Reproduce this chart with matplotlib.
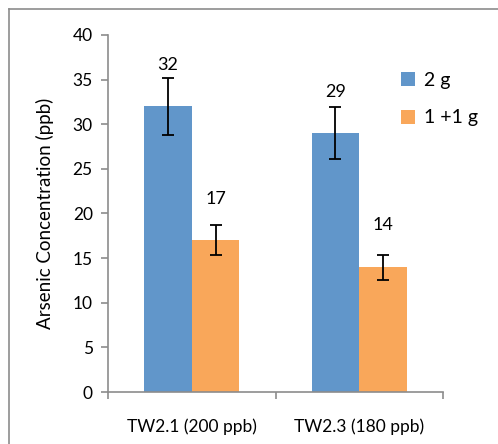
import matplotlib
matplotlib.use("Agg")
import matplotlib.pyplot as plt
from matplotlib.lines import Line2D
import numpy as np

categories = ["TW2.1 (200 ppb)", "TW2.3 (180 ppb)"]
series_names = ["2 g", "1 +1 g"]
values_2g = [32, 29]
values_1p1g = [17, 14]
err_2g = [3.2, 2.9]
err_1p1g = [1.7, 1.4]
yticks = [0, 5, 10, 15, 20, 25, 30, 35, 40]

BLUE = "#6196CA"
ORANGE = "#F9A75A"
AXIS = "#8C8C8C"

plt.rcParams["font.family"] = ["Lato", "DejaVu Sans"]

fig = plt.figure(figsize=(4.98, 4.44), dpi=100)
ax = fig.add_axes([108 / 498, 1 - 392 / 444, 335 / 498, 357 / 444])

# outer chart-area border (only top and left fall inside the image)
bx, by = 8.5 / 498, 1 - 9.5 / 444
fig.add_artist(Line2D([bx, bx], [0, by], transform=fig.transFigure,
                      color=AXIS, linewidth=1.2))
fig.add_artist(Line2D([bx, 1], [by, by], transform=fig.transFigure,
                      color=AXIS, linewidth=1.2))

x = np.arange(len(categories))
w = 0.2836
ax.bar(x - w / 2, values_2g, w, color=BLUE, label=series_names[0])
ax.bar(x + w / 2, values_1p1g, w, color=ORANGE, label=series_names[1])
ax.errorbar(x - w / 2, values_2g, yerr=err_2g, fmt="none", ecolor="black",
            elinewidth=1.3, capsize=4.5, capthick=1.3)
ax.errorbar(x + w / 2, values_1p1g, yerr=err_1p1g, fmt="none", ecolor="black",
            elinewidth=1.3, capsize=4.5, capthick=1.3)

for xs, vals in ((x - w / 2, values_2g), (x + w / 2, values_1p1g)):
    for xi, v in zip(xs, vals):
        ax.annotate(str(v), (xi, v), xytext=(0, 30), textcoords="offset points",
                    ha="center", va="center", fontsize=13)

ax.set_xlim(-0.5, len(categories) - 0.5)
ax.set_ylim(0, 40)
ax.set_yticks(yticks)
ax.set_xticks(x)
ax.set_xticklabels(categories, fontsize=12.5)
ax.set_xticks([-0.5, 0.5, 1.5], minor=True)
ax.tick_params(axis="x", which="major", length=0, pad=19)
ax.tick_params(axis="x", which="minor", length=5, color=AXIS, width=1.2)
ax.tick_params(axis="y", length=5, color=AXIS, width=1.2, labelsize=12.5, pad=6)
for s in ("top", "right"):
    ax.spines[s].set_visible(False)
for s in ("left", "bottom"):
    ax.spines[s].set_color(AXIS)
    ax.spines[s].set_linewidth(1.2)
ax.set_ylabel("Arsenic Concentration (ppb)", fontsize=13.5, labelpad=13)

ax.legend(loc="upper left", bbox_to_anchor=(0.85, 0.918), frameon=False,
          fontsize=14, handlelength=0.75, handleheight=0.75, handletextpad=0.45,
          labelspacing=1.05, borderaxespad=0)

fig.savefig("out.png", dpi=100)
